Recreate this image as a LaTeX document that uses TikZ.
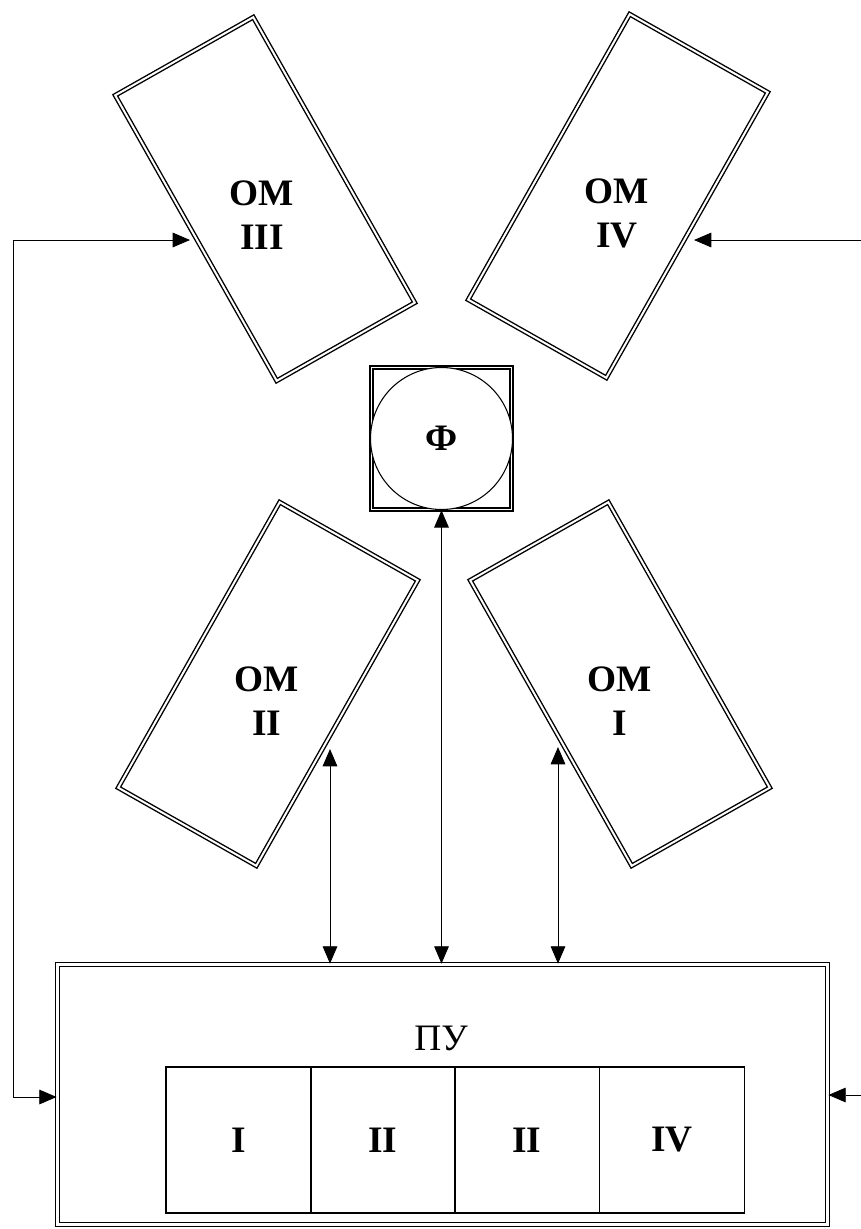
\documentclass[tikz,border=0pt]{standalone}
\usepackage{fontspec}
\setmainfont{Liberation Serif}
\usetikzlibrary{arrows.meta}
\begin{document}
\begin{tikzpicture}[x=0.75pt,y=-0.75pt,
  dbl/.style={draw, double, double distance=1.5pt, line width=1.05pt},
  ombox/.style={dbl, rectangle, minimum width=119pt, minimum height=246pt, inner sep=0pt},
  omtext/.style={font=\fontsize{28}{33}\selectfont\bfseries, align=center, inner sep=0pt},
  cell/.style={draw, line width=0.9pt, minimum width=108.75pt, minimum height=109.5pt, inner sep=0pt, font=\fontsize{28}{33}\selectfont\bfseries},
  tip/.tip={Triangle[length=13pt,width=11pt]},
  conn/.style={line width=0.7pt, tip-tip},
  arr/.style={line width=0.7pt, -tip}
]
\useasboundingbox (0,0) rectangle (861,1229);

% rotated OM boxes
\node[ombox, rotate=29.5]  (om3) at (265,199) {};
\node[ombox, rotate=-29.5] (om4) at (618,196) {};
\node[ombox, rotate=-29.5] (om2) at (268,684) {};
\node[ombox, rotate=29.5]  (om1) at (620,684) {};
\node[omtext] (om3t) at (262,215) {ОМ\\III};
\node[omtext] (om4t) at (617,213.5) {ОМ\\IV};
\node[omtext] (om2t) at (267,701) {ОМ\\II};
\node[omtext] (om1t) at (620,701) {ОМ\\I};

% Phi block
\node[draw, double, double distance=1.4pt, line width=1.2pt, minimum width=105pt, minimum height=106.5pt, inner sep=0pt] (phi) at (441.5,438.5) {};
\node[draw, circle, fill=white, line width=0.8pt, minimum size=106.5pt, inner sep=0pt,
      font=\fontsize{28}{33}\selectfont\bfseries] (phic) at (441.5,438.5) {Ф};

% PU block
\node[draw, double, double distance=1.6pt, line width=1.35pt, minimum width=577.5pt, minimum height=195pt, inner sep=0pt] (pu) at (442.5,1094.5) {};
\node[font=\fontsize{28}{32}\selectfont, anchor=base, inner sep=0pt] (put) at (441,1050) {ПУ};
\node[cell] (c1) at (238.5,1140) {I};
\node[cell] (c2) at (383,1140) {II};
\node[cell] (c3) at (527,1140) {II};
\node[cell] (c4) at (672,1140) {IV};

% connector end points on the slanted edges
\coordinate (a2) at (330,749);
\coordinate (a1) at (558,747);
\coordinate (a3) at (190,240);
\coordinate (l1) at (13,240);
\coordinate (l2) at (13,1097);
\coordinate (a4) at (694,240);
\coordinate (r1) at (861,240);
\coordinate (r2) at (861,1095);

\draw[conn] (a2) -- (a2 |- pu.north);
\draw[conn] (phi.south) -- (phi.south |- pu.north);
\draw[conn] (a1) -- (a1 |- pu.north);
\draw[conn] (a3) -- (l1) -- (l2) -- (l2 -| pu.west);
\draw[arr] (r1) -- (a4);
\draw[arr] (r2) -- (r2 -| pu.east);
\end{tikzpicture}
\end{document}
